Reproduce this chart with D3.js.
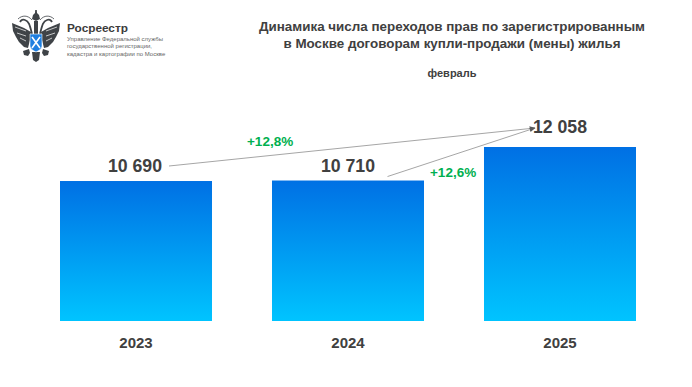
<!DOCTYPE html>
<html>
<head>
<meta charset="utf-8">
<script src="https://cdn.jsdelivr.net/npm/d3@7"></script>
<style>
  html, body { margin: 0; padding: 0; background: #fff; }
  text { font-family: "Liberation Sans", Arial, sans-serif; }
</style>
</head>
<body>
<div id="chart"></div>
<script>
// Values
const years = ["2023", "2024", "2025"];
const deals = [10690, 10710, 12058];
const dealLabels = ["10 690", "10 710", "12 058"];
const growthLabels = ["+12,8%", "+12,6%"];
const titleLines = ["Динамика числа переходов прав по зарегистрированным", "в Москве договорам купли-продажи (мены) жилья"];
const subtitle = "февраль";
const orgName = "Росреестр";
const orgLines = ["Управление Федеральной службы", "государственной регистрации,", "кадастра и картографии по Москве"];

const width = 692, height = 387;
const margin = { left: 60, right: 56, bottom: 66, top: 147 };

const svg = d3.select("#chart").append("svg")
    .attr("width", width)
    .attr("height", height)
    .style("display", "block");

const defs = svg.append("defs");
const grad = defs.append("linearGradient")
    .attr("id", "barFill")
    .attr("x1", 0).attr("y1", 0).attr("x2", 0).attr("y2", 1);
grad.append("stop").attr("offset", "0%").attr("stop-color", "#0070e4");
grad.append("stop").attr("offset", "100%").attr("stop-color", "#00c4ff");

defs.append("marker")
    .attr("id", "arrow")
    .attr("viewBox", "0 0 10 10")
    .attr("refX", 9).attr("refY", 5)
    .attr("markerWidth", 6).attr("markerHeight", 6)
    .attr("markerUnits", "userSpaceOnUse")
    .attr("orient", "auto")
    .append("path")
    .attr("d", "M0,1 L10,5 L0,9 Z")
    .attr("fill", "#595959");

const x = d3.scaleBand()
    .domain(years)
    .range([margin.left, width - margin.right])
    .paddingInner(0.283);

// the bars in the source do not start from zero
const y = d3.scaleLinear()
    .domain([5060, 12058])
    .range([height - margin.bottom, margin.top]);

// bars
svg.selectAll("rect.bar")
    .data(years)
    .join("rect")
    .attr("class", "bar")
    .attr("x", d => x(d))
    .attr("y", (d, i) => y(deals[i]))
    .attr("width", x.bandwidth())
    .attr("height", (d, i) => y.range()[0] - y(deals[i]))
    .attr("fill", "url(#barFill)");

// value labels
svg.selectAll("text.value")
    .data(years)
    .join("text")
    .attr("class", "value")
    .attr("x", (d, i) => x(d) + x.bandwidth() / 2 - (i === 0 ? 1 : 0))
    .attr("y", (d, i) => y(deals[i]) - (i === 2 ? 14 : 9))
    .attr("text-anchor", "middle")
    .attr("font-size", 17.7)
    .attr("font-weight", "bold")
    .attr("fill", "#404040")
    .text((d, i) => dealLabels[i]);

// year labels
svg.selectAll("text.year")
    .data(years)
    .join("text")
    .attr("class", "year")
    .attr("x", d => x(d) + x.bandwidth() / 2)
    .attr("y", y.range()[0] + 27)
    .attr("text-anchor", "middle")
    .attr("font-size", 15)
    .attr("font-weight", "bold")
    .attr("fill", "#404040")
    .text(d => d);

// growth connectors, both end at the 2025 label
const arrowEnd = [x("2025") + 51, y(12058) - 19];
const arrowStarts = [
    [x("2023") + x.bandwidth() / 2 + 33, y(10690) - 15],
    [x("2024") + x.bandwidth() * 0.76, y(10710) - 4]
];
svg.selectAll("line.growth")
    .data(arrowStarts)
    .join("line")
    .attr("class", "growth")
    .attr("x1", d => d[0])
    .attr("y1", d => d[1])
    .attr("x2", arrowEnd[0])
    .attr("y2", arrowEnd[1])
    .attr("stroke", "#a6a6a6")
    .attr("stroke-width", 1)
    .attr("marker-end", "url(#arrow)");

svg.selectAll("text.growth")
    .data(growthLabels)
    .join("text")
    .attr("class", "growth")
    .attr("x", (d, i) => i === 0 ? x("2024") - 25 : x("2024") + 158)
    .attr("y", (d, i) => i === 0 ? y(10710) - 35 : y(10710) - 4)
    .attr("text-anchor", "start")
    .attr("font-size", 13.5)
    .attr("font-weight", "bold")
    .attr("fill", "#00b050")
    .text(d => d);

// title
svg.selectAll("text.title")
    .data(titleLines)
    .join("text")
    .attr("class", "title")
    .attr("x", 452)
    .attr("y", (d, i) => 31 + i * 17)
    .attr("text-anchor", "middle")
    .attr("font-size", 13.4)
    .attr("font-weight", "bold")
    .attr("fill", "#404040")
    .text(d => d);

svg.append("text")
    .attr("x", 452)
    .attr("y", 77)
    .attr("text-anchor", "middle")
    .attr("font-size", 11)
    .attr("font-weight", "bold")
    .attr("fill", "#404040")
    .text(subtitle);

// logo text
svg.append("text")
    .attr("x", 67)
    .attr("y", 32)
    .attr("font-size", 11.8)
    .attr("font-weight", "bold")
    .attr("fill", "#3c3c3c")
    .text(orgName);

svg.selectAll("text.org")
    .data(orgLines)
    .join("text")
    .attr("class", "org")
    .attr("x", 67)
    .attr("y", (d, i) => 41 + i * 7.3)
    .attr("font-size", 6)
    .attr("fill", "#666")
    .text(d => d);

// simplified eagle emblem, one side drawn and mirrored
const logo = svg.append("g").attr("fill", "#3f4347");
[1, -1].forEach(s => {
    const side = logo.append("g").attr("transform", `translate(36,0) scale(${s},1)`);
    side.append("path").attr("d", "M5,32 L12,28 L24,23 L23,31 L20,37 L17,42 L12,47 L8,48 L6,40 Z");
    side.append("path")
        .attr("d", "M10,31 L21,27 M10,36 L19,33 M10,41 L16,38")
        .attr("fill", "none")
        .attr("stroke", "#fff")
        .attr("stroke-width", 0.7);
    side.append("path")
        .attr("d", "M4,34 C6,26 7,21 11,20 C13,19 15,20 16,22")
        .attr("fill", "none")
        .attr("stroke", "#3f4347")
        .attr("stroke-width", 1.8);
    side.append("path")
        .attr("d", "M4,20 C8,15 14,15 18,19")
        .attr("fill", "none")
        .attr("stroke", "#3f4347")
        .attr("stroke-width", 0.8);
    side.append("path").attr("d", "M7,49 L13,51 L12,55 L8,56 L6,53 Z");
});
logo.append("path").attr("d", "M33,15 L35,13 L35.2,10 L36.8,10 L37,13 L39,15 L40,19 L36,21 L32,19 Z");
logo.append("rect").attr("x", 34).attr("y", 21).attr("width", 4).attr("height", 13);
logo.append("path").attr("d", "M32,52 L40,52 L39,60 L36,62 L33,60 Z");
logo.append("path")
    .attr("d", "M30,34 L42,34 L42,46 C42,49 38,51 36,52 C34,51 30,49 30,46 Z")
    .attr("fill", "#1f7fe0")
    .attr("stroke", "#fff")
    .attr("stroke-width", 0.6);
logo.append("path")
    .attr("d", "M32,37 L40,48 M40,37 L32,48")
    .attr("fill", "none")
    .attr("stroke", "#fff")
    .attr("stroke-width", 1.6);
</script>
</body>
</html>
